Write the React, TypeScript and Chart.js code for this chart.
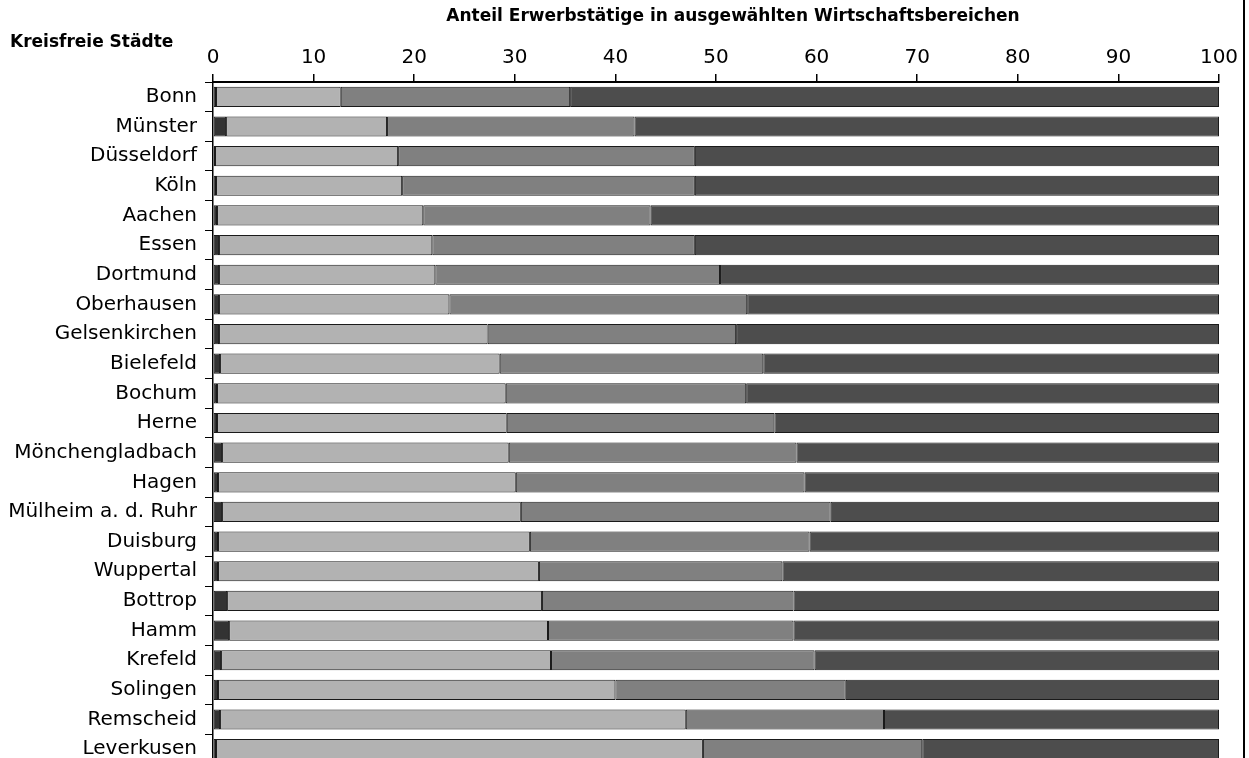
import React, { useEffect, useRef } from "react";
import { Chart, registerables } from "chart.js";

Chart.register(...registerables);

const cities = [
  "Bonn", "Münster", "Düsseldorf", "Köln", "Aachen", "Essen", "Dortmund",
  "Oberhausen", "Gelsenkirchen", "Bielefeld", "Bochum", "Herne",
  "Mönchengladbach", "Hagen", "Mülheim a. d. Ruhr", "Duisburg", "Wuppertal",
  "Bottrop", "Hamm", "Krefeld", "Solingen", "Remscheid", "Leverkusen",
];

const agriculture = [0.3, 1.3, 0.2, 0.3, 0.4, 0.6, 0.6, 0.6, 0.6, 0.7, 0.4, 0.4, 0.9, 0.5, 0.9, 0.5, 0.5, 1.4, 1.6, 0.8, 0.5, 0.7, 0.3];
const industry = [12.4, 16.0, 18.2, 18.5, 20.5, 21.2, 21.5, 22.9, 26.7, 27.8, 28.7, 28.8, 28.5, 29.6, 29.7, 31.0, 31.9, 31.3, 31.7, 32.8, 39.5, 46.3, 48.4];
const trade = [22.8, 24.6, 29.5, 29.1, 22.6, 26.1, 28.3, 29.6, 24.7, 26.2, 23.9, 26.6, 28.6, 28.7, 30.8, 27.8, 24.2, 25.0, 24.4, 26.2, 22.9, 19.7, 21.8];
const services = [64.5, 58.1, 52.1, 52.1, 56.5, 52.1, 49.6, 46.9, 48.0, 45.3, 47.0, 44.2, 42.0, 41.2, 38.6, 40.7, 43.4, 42.3, 42.3, 40.2, 37.1, 33.3, 29.5];

const xTicks = [0, 10, 20, 30, 40, 50, 60, 70, 80, 90, 100];

const axisTitle = "Anteil Erwerbstätige in ausgewählten Wirtschaftsbereichen";
const cornerLabel = "Kreisfreie Städte";

const FONT = "'DejaVu Sans', sans-serif";

export default function App() {
  const ref = useRef<HTMLCanvasElement | null>(null);

  useEffect(() => {
    if (!ref.current) return;
    const extras = {
      id: "extras",
      afterDraw(chart: any) {
        const ctx = chart.ctx;
        ctx.save();
        ctx.fillStyle = "#000";
        ctx.font = `bold 17px ${FONT}`;
        ctx.textBaseline = "middle";
        ctx.textAlign = "left";
        ctx.fillText(cornerLabel, 10, 43);
        ctx.textAlign = "center";
        ctx.fillText(axisTitle, 733, 17);
        ctx.fillRect(1243, 0, 2, chart.height);
        ctx.restore();
      },
    };
    const mk = (label: string, data: number[], color: string) => ({
      label,
      data,
      backgroundColor: color,
      borderColor: "#1a1a1a",
      borderWidth: 1,
      borderSkipped: false as any,
      barPercentage: 0.68,
      categoryPercentage: 1,
    });
    const chart = new Chart(ref.current, {
      type: "bar",
      data: {
        labels: cities,
        datasets: [
          mk("Land- und Forstwirtschaft", agriculture, "#333333"),
          mk("Produzierendes Gewerbe", industry, "#b2b2b2"),
          mk("Handel, Verkehr", trade, "#808080"),
          mk("Dienstleistungen", services, "#4d4d4d"),
        ],
      },
      options: {
        indexAxis: "y",
        responsive: false,
        animation: false,
        layout: { padding: { left: 0, right: 30, top: 0, bottom: 0 } },
        plugins: {
          legend: { display: false },
          tooltip: { enabled: false },
          title: { display: false },
        },
        scales: {
          x: {
            position: "top",
            stacked: true,
            min: 0,
            max: 100,
            afterBuildTicks: (s: any) => {
              s.ticks = xTicks.map((v) => ({ value: v }));
            },
            afterFit: (s: any) => {
              s.height = 82;
            },
            ticks: {
              color: "#000",
              font: { family: FONT, size: 20 },
              padding: 4,
              maxRotation: 0,
            },
            grid: {
              drawOnChartArea: false,
              drawTicks: true,
              tickLength: 8,
              color: "#000",
              lineWidth: 1.5,
            },
            border: { display: true, color: "#000", width: 2 },
          },
          y: {
            stacked: true,
            afterFit: (s: any) => {
              s.width = 213;
            },
            ticks: {
              color: "#000",
              font: { family: FONT, size: 20 },
              padding: 8,
            },
            grid: {
              drawOnChartArea: false,
              drawTicks: true,
              tickLength: 8,
              offset: true,
              color: "#000",
              lineWidth: 1,
            },
            border: { display: true, color: "#000", width: 1.5 },
          },
        },
      },
      plugins: [extras],
    } as any);
    return () => chart.destroy();
  }, []);

  return (
    <div style={{ position: "fixed", left: 0, top: 0, width: 1249, height: 758, overflow: "hidden", background: "#fff" }}>
      <canvas ref={ref} width={1249} height={784} style={{ display: "block" }} />
    </div>
  );
}
